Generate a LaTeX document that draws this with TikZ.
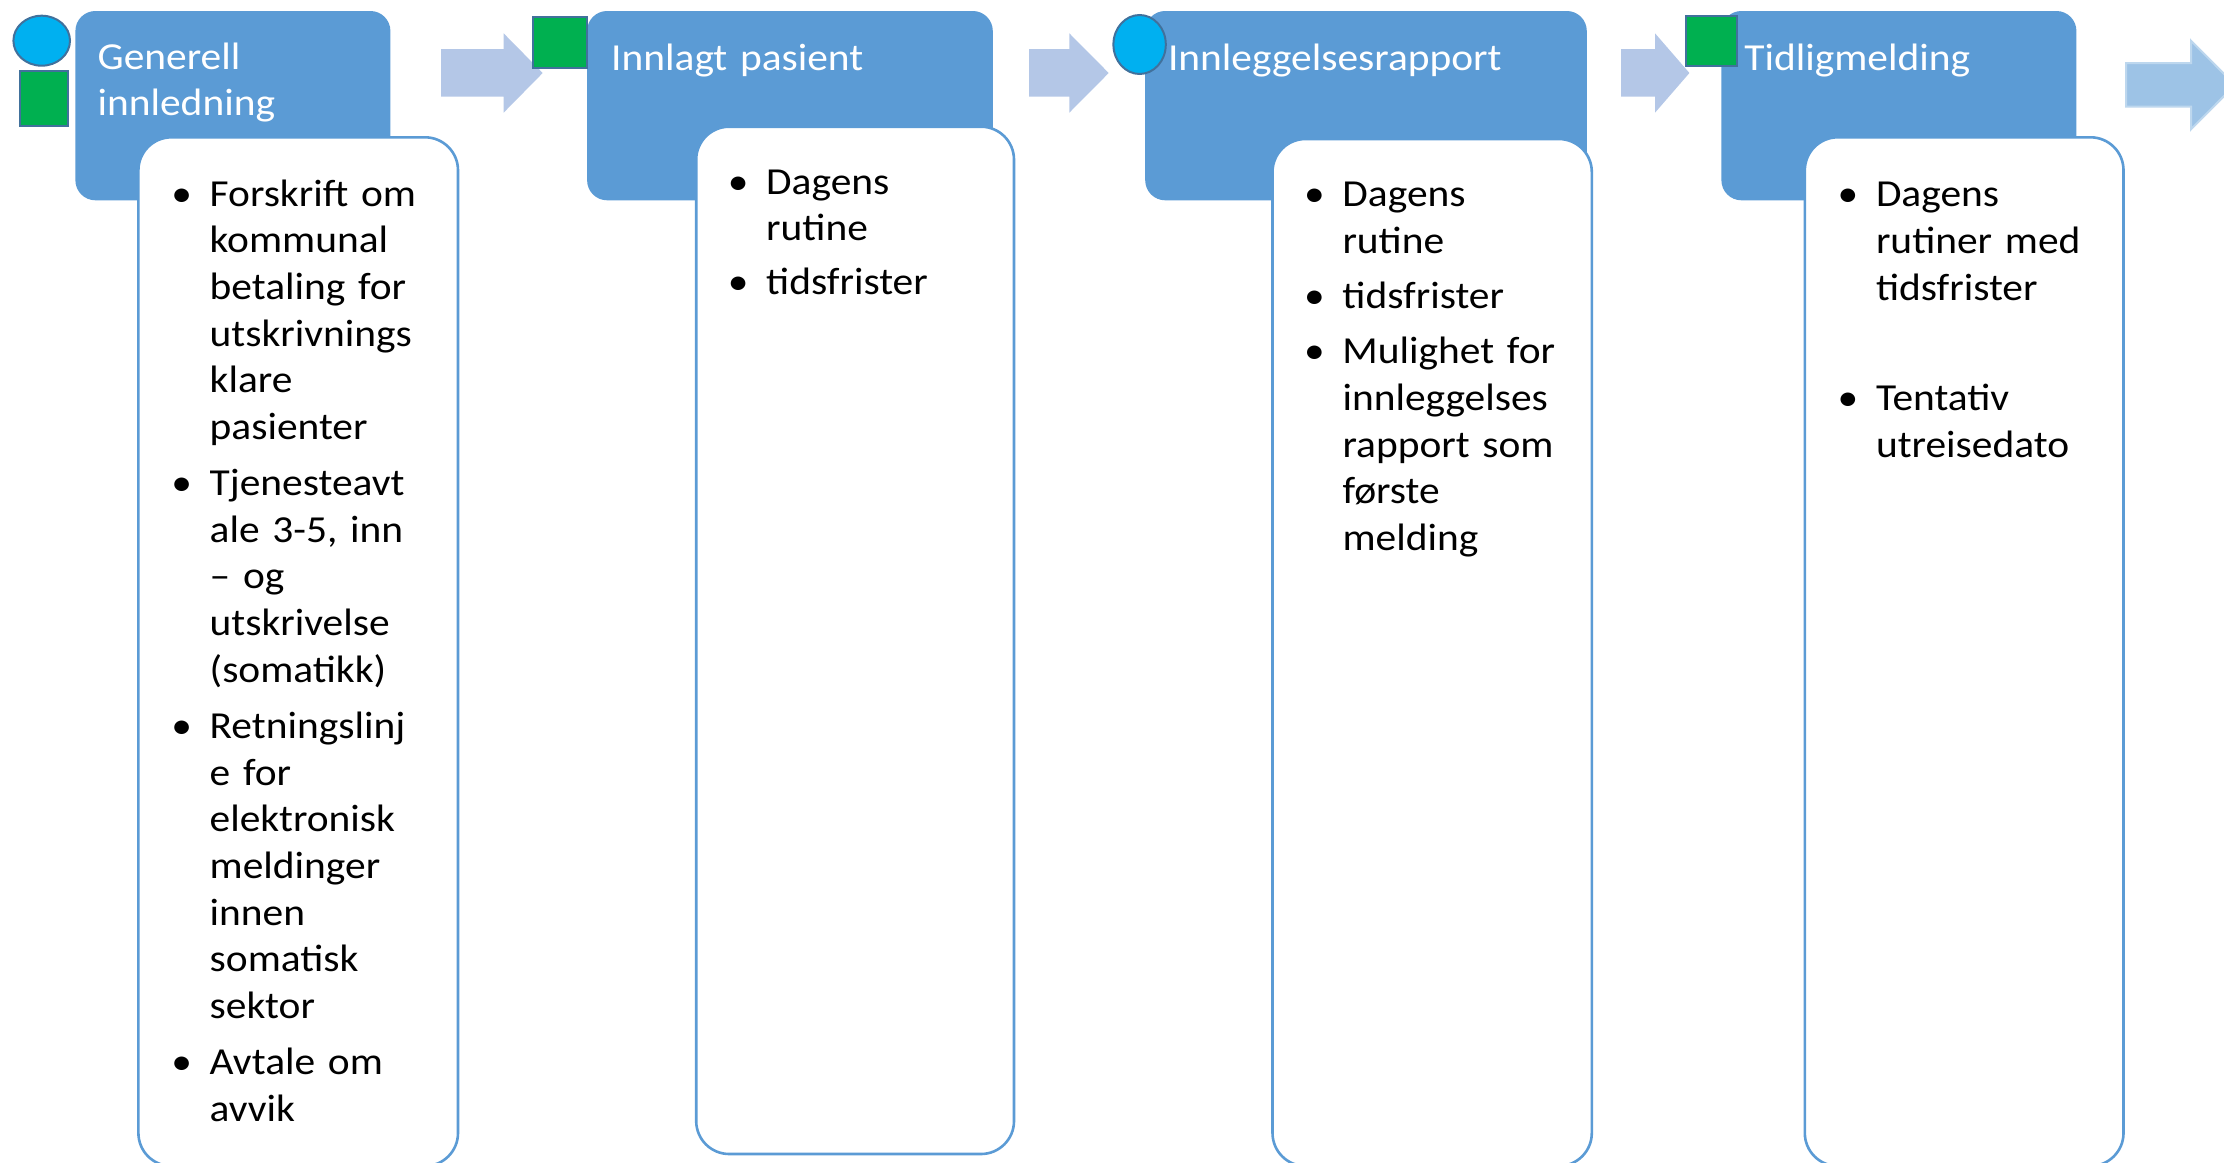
\documentclass[tikz,border=0pt]{standalone}
\usepackage{fontspec}
\setmainfont{Carlito}[FakeStretch=1.085]
\usetikzlibrary{shapes.geometric}
\definecolor{boxblue}{HTML}{5B9BD5}
\definecolor{arrowblue}{HTML}{B4C7E7}
\definecolor{arrowblueB}{HTML}{9DC3E6}
\definecolor{arrowedge}{HTML}{BDD7EE}
\definecolor{cyanfill}{HTML}{00B0F0}
\definecolor{greenfill}{HTML}{00B050}
\definecolor{markedge}{HTML}{41719C}
\newcommand{\bodyfont}{\fontsize{38.2}{46.67}\selectfont}
\newcommand{\bpt}{\leavevmode\llap{\makebox[0pt]{\textbullet}\hspace{28pt}}}
\begin{document}
\begin{tikzpicture}[x=1pt,y=-1pt,
  bluebox/.style={anchor=north west, fill=boxblue, draw=none, rounded corners=20pt, inner sep=0pt, outer sep=0pt},
  whitebox/.style={anchor=north west, fill=white, draw=boxblue, line width=2.6pt, rounded corners=33pt, inner sep=0pt, outer sep=0pt},
  titletext/.style={anchor=base west, inner sep=0pt, outer sep=0pt, text width=420pt, align=left, text=white, font=\bodyfont},
  listtext/.style={anchor=base west, inner sep=0pt, outer sep=0pt, text width=260pt, align=left, text=black, font=\bodyfont},
  blockarrow/.style={fill=arrowblue, draw=none},
  circmark/.style={ellipse, fill=cyanfill, draw=markedge, line width=2pt, inner sep=0pt, outer sep=0pt},
  sqmark/.style={rectangle, anchor=north west, fill=greenfill, draw=markedge, line width=2pt, inner sep=0pt, outer sep=0pt}
]
\useasboundingbox (0,0) rectangle (2224,1162);
\clip (0,0) rectangle (2224,1162);
\fill[white] (0,0) rectangle (2224,1162);

% block arrows between the stages
\path[blockarrow] (441,49) -- (503.6,49) -- (503.6,33.3) -- (542.7,73) -- (503.6,112.7) -- (503.6,96.7) -- (441,96.7) -- cycle;
\path[blockarrow] (1029,49) -- (1069.3,49) -- (1069.3,33.3) -- (1108.7,73) -- (1069.3,112.7) -- (1069.3,96.7) -- (1029,96.7) -- cycle;
\path[blockarrow] (1621.2,49) -- (1655,49) -- (1655,33.3) -- (1689.4,73) -- (1655,112.7) -- (1655,96.7) -- (1621.2,96.7) -- cycle;
\path[fill=arrowblueB, draw=arrowedge, line width=2pt] (2126,63) -- (2191,63) -- (2191,40.7) -- (2235,85) -- (2191,129.3) -- (2191,106.7) -- (2126,106.7) -- cycle;

% stage header boxes
\node[bluebox, minimum width=315pt, minimum height=189.3pt] (b1) at (75.4,11) {};
\node[bluebox, minimum width=405.7pt, minimum height=189.3pt] (b2) at (587.1,11) {};
\node[bluebox, minimum width=441.6pt, minimum height=189.3pt] (b3) at (1145.2,11) {};
\node[bluebox, minimum width=355pt, minimum height=189.3pt] (b4) at (1721.4,11) {};

% content boxes
\node[whitebox, minimum width=319.6pt, minimum height=1028.7pt] (w1) at (138.4,137.3) {};
\node[whitebox, minimum width=317.8pt, minimum height=1027.3pt] (w2) at (696.2,126.7) {};
\node[whitebox, minimum width=319.3pt, minimum height=1027pt] (w3) at (1272.5,139) {};
\node[whitebox, minimum width=318.7pt, minimum height=1028.7pt] (w4) at (1804.8,137.3) {};

% titles
\node[titletext] (t1) at (97.6,69.3) {Generell\\innledning};
\node[titletext] (t2) at (611.2,70) {Innlagt pasient};
\node[titletext] (t3) at (1168,70) {Innleggelsesrapport};
\node[titletext] (t4) at (1744.4,70) {Tidligmelding};

% bullet lists
\node[listtext] (l1) at (209.7,206) {\bpt Forskrift om\\kommunal\\betaling for\\utskrivnings\\klare\\pasienter\\[9.5pt]\bpt Tjenesteavt\\ale 3-5, inn\\– og\\utskrivelse\\(somatikk)\\[9.5pt]\bpt Retningslinj\\e for\\elektronisk\\meldinger\\innen\\somatisk\\sektor\\[9.5pt]\bpt Avtale om\\avvik};
\node[listtext] (l2) at (766.2,194.3) {\bpt Dagens\\rutine\\[7pt]\bpt tidsfrister};
\node[listtext] (l3) at (1342.5,206.7) {\bpt Dagens\\rutine\\[8pt]\bpt tidsfrister\\[9pt]\bpt Mulighet for\\innleggelses\\rapport som\\første\\melding};
\node[listtext] (l4) at (1876,206.7) {\bpt Dagens\\rutiner med\\tidsfrister\\[64pt]\bpt Tentativ\\utreisedato};

% markers
\node[circmark, minimum width=56.6pt, minimum height=50pt] (c1) at (41.7,40.7) {};
\node[sqmark, minimum width=48.6pt, minimum height=54.7pt] (s1) at (19.5,71.3) {};
\node[sqmark, minimum width=53.7pt, minimum height=51pt] (s2) at (533,17.3) {};
\node[circmark, minimum width=52.4pt, minimum height=59pt] (c3) at (1139.6,44.5) {};
\node[sqmark, minimum width=51.2pt, minimum height=50.6pt] (s4) at (1685.5,15.7) {};
\end{tikzpicture}
\end{document}
